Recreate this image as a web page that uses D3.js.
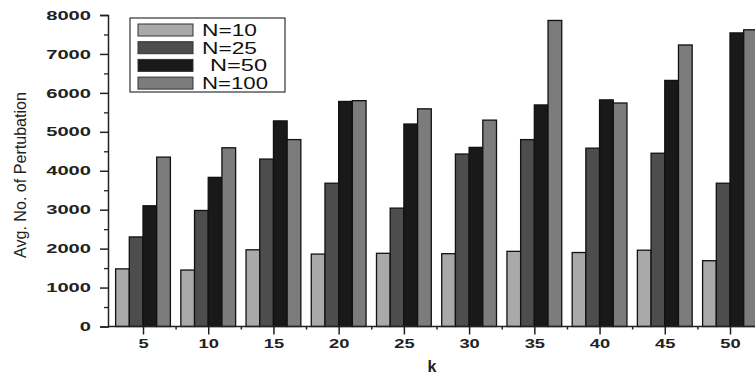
<!DOCTYPE html>
<html lang="en">
<head>
	<meta charset="UTF-8">
	<title>Avg. No. of Pertubation</title>
	<script src="https://d3js.org/d3.v7.min.js"></script>
	<style>
		* { margin: 0px; padding: 0px; }
		body { background: #fff; }
		svg { display: block; }
		.tick text { font-family: "Liberation Sans", Arial, sans-serif; }
	</style>
</head>
<body>
	<svg width="755" height="378"></svg>
	<script>
		// values
		var kValues = [5, 10, 15, 20, 25, 30, 35, 40, 45, 50];
		var seriesNames = ["N=10", "N=25", "N=50", "N=100"];
		var n10  = [1480, 1450, 1970, 1860, 1880, 1870, 1930, 1900, 1960, 1690];
		var n25  = [2300, 2980, 4300, 3680, 3040, 4430, 4800, 4580, 4450, 3680];
		var n50  = [3100, 3830, 5280, 5780, 5200, 4600, 5690, 5820, 6320, 7540];
		var n100 = [4350, 4590, 4800, 5800, 5590, 5300, 7860, 5740, 7230, 7620];
		var yTicks = [0, 1000, 2000, 3000, 4000, 5000, 6000, 7000, 8000];

		var series = [n10, n25, n50, n100];
		var fills = ["#a9a9a9", "#4d4d4d", "#191919", "#7c7c7c"];

		var svg = d3.select("svg");
		var font = "'Liberation Sans', Arial, sans-serif";

		var x = d3.scaleLinear().domain([5, 50]).range([143, 730]);
		var y = d3.scaleLinear().domain([0, 8000]).range([326.5, 15]);
		var xLeft = 108;
		var barW = (x(6.05) - x(5)); // ~13.7 px each

		// bars
		var g = svg.append("g");
		series.forEach(function (vals, si) {
			g.selectAll(".s" + si)
				.data(vals)
				.enter()
				.append("rect")
				.attr("x", function (d, i) { return x(kValues[i]) - 2 * barW + si * barW; })
				.attr("y", function (d) { return y(d); })
				.attr("width", barW)
				.attr("height", function (d) { return y(0) - y(d); })
				.attr("fill", fills[si])
				.attr("stroke", "#111")
				.attr("stroke-width", 1.3);
		});

		// wide-looking labels: stretch each one to the width seen in the picture
		function widen(sel, perChar) {
			sel.attr("textLength", function () { return this.textContent.length * perChar; })
				.attr("lengthAdjust", "spacingAndGlyphs");
		}

		// y axis
		var yAxis = svg.append("g")
			.attr("transform", "translate(" + xLeft + ",0)")
			.call(d3.axisLeft(y).tickValues(yTicks).tickSize(8).tickPadding(9).tickFormat(d3.format("d")));
		yAxis.selectAll("text").attr("font-size", 13).attr("font-weight", "bold").attr("fill", "#222").call(widen, 11.2);
		yAxis.select(".domain").attr("stroke", "#222").attr("stroke-width", 1.5);
		yAxis.selectAll(".tick line").attr("stroke", "#222").attr("stroke-width", 1.5);
		svg.append("g")
			.attr("transform", "translate(" + xLeft + ",0)")
			.call(d3.axisLeft(y).tickValues(d3.range(500, 8000, 1000)).tickSize(4).tickFormat(""))
			.call(function (a) {
				a.select(".domain").remove();
				a.selectAll("line").attr("stroke", "#222").attr("stroke-width", 1.3);
			});

		// x axis
		var xAxis = svg.append("g")
			.attr("transform", "translate(0," + y(0) + ")")
			.call(d3.axisBottom(x).tickValues(kValues).tickSize(8).tickPadding(4).tickSizeOuter(0));
		xAxis.select(".domain").attr("d", "M" + xLeft + ",0H755").attr("stroke", "#222").attr("stroke-width", 1.5);
		xAxis.selectAll(".tick line").attr("stroke", "#222").attr("stroke-width", 1.5);
		xAxis.selectAll("text").attr("font-size", 13).attr("font-weight", "bold").attr("fill", "#222").call(widen, 10.2);
		svg.append("g")
			.attr("transform", "translate(0," + y(0) + ")")
			.call(d3.axisBottom(x).tickValues(kValues.map(function (k) { return k + 2.5; })).tickSize(3).tickFormat(""))
			.call(function (a) {
				a.select(".domain").remove();
				a.selectAll("line").attr("stroke", "#222").attr("stroke-width", 1.5);
			});

		// axis titles
		svg.append("text")
			.attr("x", 432).attr("y", 372)
			.attr("text-anchor", "middle")
			.attr("font-family", font).attr("font-size", 16).attr("font-weight", "bold")
			.attr("fill", "#222")
			.text("k");
		svg.append("text")
			.attr("transform", "translate(26,175) rotate(-90)")
			.attr("text-anchor", "middle")
			.attr("font-family", font)
			.attr("font-size", 17)
			.attr("textLength", 166).attr("lengthAdjust", "spacingAndGlyphs")
			.attr("fill", "#222")
			.text("Avg. No. of Pertubation");

		// legend
		var legWidths = [55, 55, 57, 66];
		var leg = svg.append("g");
		leg.append("rect")
			.attr("x", 130).attr("y", 18).attr("width", 155).attr("height", 74)
			.attr("fill", "#fff").attr("stroke", "#333").attr("stroke-width", 1.2);
		var rows = leg.selectAll(".row")
			.data(seriesNames)
			.enter()
			.append("g")
			.attr("transform", function (d, i) { return "translate(0," + (30 + i * 17.7) + ")"; });
		rows.append("rect")
			.attr("x", 138).attr("y", -6).attr("width", 55).attr("height", 12)
			.attr("fill", function (d, i) { return fills[i]; })
			.attr("stroke", "#333").attr("stroke-width", 1);
		rows.append("text")
			.attr("x", function (d, i) { return i === 2 ? 210 : 202; })
			.attr("y", 6)
			.attr("font-family", font).attr("font-size", 16.5)
			.attr("textLength", function (d, i) { return legWidths[i]; })
			.attr("lengthAdjust", "spacingAndGlyphs")
			.attr("fill", "#111")
			.text(function (d) { return d; });
	</script>
</body>
</html>
